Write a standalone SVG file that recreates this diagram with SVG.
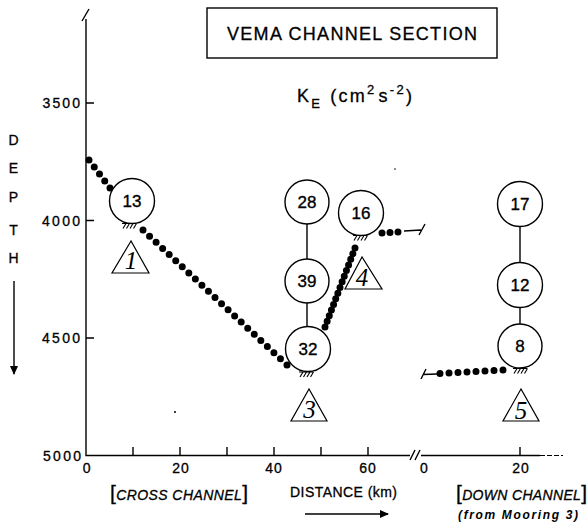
<svg xmlns="http://www.w3.org/2000/svg" width="587" height="527" viewBox="0 0 587 527">
<style>
.ln{fill:none;stroke:#000;stroke-width:1.4}
.thin{fill:none;stroke:#000;stroke-width:1.1}
.dots{fill:none;stroke:#000;stroke-width:7;stroke-linecap:round;stroke-dasharray:0 1}
.node circle{fill:#fff;stroke:#000;stroke-width:1.4}
.node text{font-family:"Liberation Sans",Arial,sans-serif;font-size:17px;text-anchor:middle;stroke:#000;stroke-width:0.35}
.tri polygon{fill:#fff;stroke:#000;stroke-width:1.2}
.tri text{font-family:"Liberation Serif","Times New Roman",serif;font-style:italic;font-size:25px;text-anchor:middle}
.lab{font-family:"Liberation Sans",Arial,sans-serif;font-size:14px;stroke:#000;stroke-width:0.3}
.it{font-style:italic}
</style>
<defs>
<g id="hatch" class="thin">
<path d="M0,0 H14 M4,0 L1,5 M7.5,0 L4.5,5 M11,0 L8,5 M14.5,0 L11.5,5"/>
</g>
<marker id="ah" markerWidth="10" markerHeight="10" refX="8" refY="4" orient="auto" markerUnits="userSpaceOnUse">
<path d="M0,0 L9,4 L0,8 Z" fill="#000"/>
</marker>
</defs>

<!-- title -->
<g id="title">
<rect x="207" y="8" width="290" height="50" class="ln"/>
<text x="227" y="40" class="lab" textLength="250" lengthAdjust="spacing" style="font-size:18px">VEMA CHANNEL SECTION</text>
</g>
<g id="units">
<text x="297" y="101.5" class="lab" style="font-size:18px" textLength="115" lengthAdjust="spacing">K<tspan dy="6.5" style="font-size:13px">E</tspan><tspan dy="-6.5" dx="8">(cm</tspan><tspan dy="-8" style="font-size:13px">2</tspan><tspan dy="8" dx="2">s</tspan><tspan dy="-8" style="font-size:13px">-2</tspan><tspan dy="8">)</tspan></text>
</g>

<!-- axes -->
<g id="axes">
<path class="ln" d="M86,19 V455.5 H410 M421,455.5 H540"/>
<path class="thin" d="M540,455.5 H563" stroke-dasharray="5 2"/>
<path class="ln" d="M82,21 L89,9"/>
<path class="ln" d="M410,460 L415,450 M415,460 L420,450"/>
<path class="ln" d="M86,103 H94 M86,220.5 H94 M86,338 H94"/>
<path class="ln" d="M133,455.5 V447 M180,455.5 V447 M227,455.5 V447 M274,455.5 V447 M321,455.5 V447 M368,455.5 V447 M520,455.5 V447"/>
<g class="lab">
<text x="42.5" y="108" textLength="37.5" lengthAdjust="spacing">3500</text>
<text x="42" y="225.5" textLength="38" lengthAdjust="spacing">4000</text>
<text x="42" y="343" textLength="38" lengthAdjust="spacing">4500</text>
<text x="43" y="460.5" textLength="38" lengthAdjust="spacing">5000</text>
<g text-anchor="middle">
<text x="86.7" y="473">0</text>
<text x="181" y="473" letter-spacing="1">20</text>
<text x="274" y="473" letter-spacing="1">40</text>
<text x="368" y="473" letter-spacing="1">60</text>
<text x="424" y="473">0</text>
<text x="521" y="473" letter-spacing="1">20</text>
</g>
<g text-anchor="middle">
<text x="13.5" y="145">D</text>
<text x="13.5" y="173">E</text>
<text x="13.5" y="201.5">P</text>
<text x="13.5" y="235">T</text>
<text x="13.5" y="263">H</text>
</g>
<text x="110" y="500" textLength="138" lengthAdjust="spacing"><tspan style="font-size:21px">[</tspan><tspan class="it">CROSS CHANNEL</tspan><tspan style="font-size:21px">]</tspan></text>
<text x="290" y="497" textLength="107" lengthAdjust="spacing" style="font-size:14px">DISTANCE (km)</text>
<text x="456" y="500" textLength="131" lengthAdjust="spacing"><tspan style="font-size:21px">[</tspan><tspan class="it">DOWN CHANNEL</tspan><tspan style="font-size:21px">]</tspan></text>
<text x="458" y="518.5" textLength="120" lengthAdjust="spacing" class="it" font-weight="bold" style="font-size:12px;stroke-width:0">(from Mooring 3)</text>
</g>
<path class="ln" d="M14,281 V374" marker-end="url(#ah)"/>
<path class="ln" d="M305,514 H388" marker-end="url(#ah)"/>
</g>

<!-- connectors -->
<g id="connectors">
<path class="ln" d="M307,224 V259 M307,303 V326.5 M520,226.5 V262.5 M520,307.5 V324"/>
<path class="dots" pathLength="4.001" d="M89,160 L110,188"/>
<path class="dots" pathLength="22.001" d="M143,230 L287,365"/>
<path class="dots" pathLength="14.001" d="M325,327 L355,248"/>
<path class="dots" pathLength="2.001" d="M382,233 L398,232"/>
<path class="ln" d="M404,231 L421,230 M425,224 L419,235"/>
<path class="dots" pathLength="7.001" d="M440,373.5 L503,370"/>
<path class="ln" d="M423,374.5 L437,374 M426,369 L421,379"/>
</g>

<!-- nodes -->
<g id="node-13" class="node"><circle cx="132" cy="201" r="22.5"/><text x="132" y="207">13</text></g>
<g id="node-28" class="node"><circle cx="307" cy="202" r="22"/><text x="307" y="208">28</text></g>
<g id="node-39" class="node"><circle cx="307" cy="281" r="22"/><text x="307" y="287">39</text></g>
<g id="node-32" class="node"><circle cx="308" cy="349" r="22.5"/><text x="308" y="355">32</text></g>
<g id="node-16" class="node"><circle cx="361" cy="213" r="22.5"/><text x="361" y="219">16</text></g>
<g id="node-17" class="node"><circle cx="520" cy="204" r="22.5"/><text x="520" y="210">17</text></g>
<g id="node-12" class="node"><circle cx="520" cy="285" r="22.5"/><text x="520" y="291">12</text></g>
<g id="node-8" class="node"><circle cx="520" cy="346" r="22"/><text x="520" y="352">8</text></g>

<!-- moorings -->
<g id="mooring-1" class="tri"><use href="#hatch" x="122" y="223.5"/><polygon points="131,241 112,273 149,273"/><text x="131" y="269">1</text></g>
<g id="mooring-3" class="tri"><use href="#hatch" x="299" y="372"/><polygon points="309,389 291,421 327,421"/><text x="309.5" y="418">3</text></g>
<g id="mooring-4" class="tri"><use href="#hatch" x="353" y="235.5"/><polygon points="362,257 345,289 382,289"/><text x="362" y="285.5">4</text></g>
<g id="mooring-5" class="tri"><use href="#hatch" x="513" y="368.5"/><polygon points="521,389 503,421 539,421"/><text x="521" y="419">5</text></g>

<circle cx="175" cy="412" r="1" fill="#000"/>
<circle cx="395" cy="169" r="0.8" fill="#000"/>
</svg>
